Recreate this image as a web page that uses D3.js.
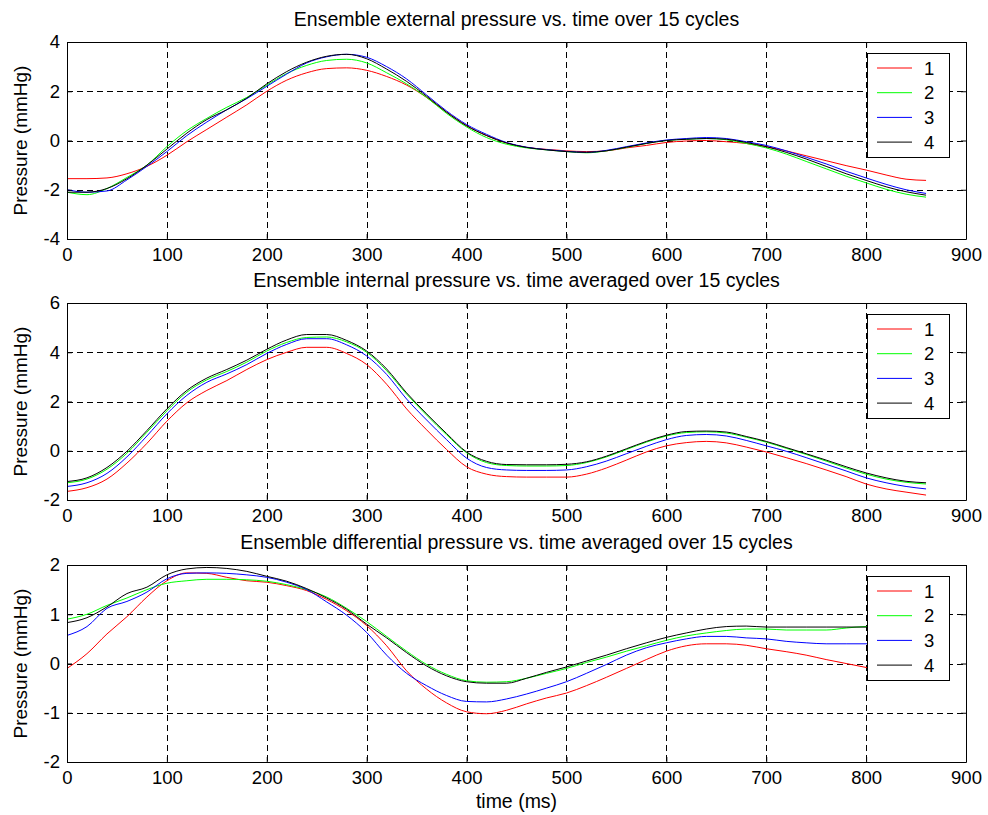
<!DOCTYPE html>
<html>
<head>
<meta charset="utf-8">
<script src="https://cdn.jsdelivr.net/npm/d3@7"></script>
<style>
    body { margin: 0; background: #fff; }
    svg { display: block; font-family: "Liberation Sans", Arial, sans-serif; }
    .grid line { stroke: #000; stroke-dasharray: 6,4; stroke-width: 1; }
    .axis path, .axis line { stroke: #000; }
    .axis text { font-size: 18.5px; fill: #000; }
</style>
</head>
<body>
<div class="chart"></div>
<script>
// time samples (ms)
var time = [0, 20, 40, 60, 80, 100, 120, 140, 160, 180, 200, 220, 240, 260, 280, 300, 320, 340, 360, 380,
    400, 420, 440, 460, 480, 500, 520, 540, 560, 580, 600, 620, 640, 660, 680, 700, 720, 740, 760, 780,
    800, 820, 840, 860];

var seriesNames = ["1", "2", "3", "4"];
var seriesColors = ["#ff0000", "#00ff00", "#0000ff", "#000000"];
var xTicks = [0, 100, 200, 300, 400, 500, 600, 700, 800, 900];

// external pressure
var ext1 = [-1.55, -1.55, -1.52, -1.35, -1.05, -0.6, -0.05, 0.45, 0.95, 1.45, 2.0, 2.45, 2.75, 2.92, 2.95, 2.85, 2.6, 2.25, 1.75, 1.15,
    0.6, 0.2, -0.1, -0.28, -0.36, -0.42, -0.45, -0.42, -0.3, -0.2, -0.08, -0.02, 0.0, -0.05, -0.12, -0.25, -0.42, -0.62, -0.82, -1.02,
    -1.2, -1.4, -1.57, -1.62];
var ext2 = [-2.1, -2.2, -1.95, -1.5, -1.0, -0.25, 0.4, 0.9, 1.35, 1.75, 2.25, 2.72, 3.05, 3.25, 3.3, 3.15, 2.75, 2.3, 1.75, 1.1,
    0.55, 0.12, -0.15, -0.3, -0.38, -0.45, -0.5, -0.42, -0.28, -0.12, 0.0, 0.05, 0.08, 0.03, -0.12, -0.3, -0.55, -0.85, -1.15, -1.45,
    -1.72, -1.98, -2.18, -2.3];
var ext3 = [-2.0, -2.1, -2.05, -1.6, -1.05, -0.45, 0.2, 0.75, 1.25, 1.7, 2.2, 2.7, 3.15, 3.4, 3.5, 3.38, 3.0, 2.5, 1.85, 1.2,
    0.65, 0.25, -0.08, -0.27, -0.37, -0.44, -0.48, -0.4, -0.25, -0.1, 0.02, 0.08, 0.12, 0.08, -0.05, -0.2, -0.42, -0.68, -0.95, -1.25,
    -1.52, -1.78, -2.0, -2.15];
var ext4 = [-2.1, -2.1, -1.95, -1.55, -1.0, -0.35, 0.3, 0.85, 1.25, 1.72, 2.3, 2.8, 3.18, 3.42, 3.5, 3.32, 2.9, 2.4, 1.8, 1.15,
    0.6, 0.2, -0.1, -0.28, -0.38, -0.45, -0.48, -0.42, -0.27, -0.12, 0.0, 0.05, 0.08, 0.05, -0.08, -0.25, -0.48, -0.75, -1.05, -1.35,
    -1.62, -1.88, -2.08, -2.22];

// internal pressure
var int1 = [-1.65, -1.5, -1.15, -0.5, 0.3, 1.2, 1.95, 2.45, 2.85, 3.3, 3.7, 4.0, 4.2, 4.2, 3.95, 3.5, 2.7, 1.7, 0.85, 0.05,
    -0.65, -0.95, -1.05, -1.07, -1.07, -1.07, -0.95, -0.7, -0.38, -0.05, 0.2, 0.33, 0.38, 0.32, 0.15, -0.05, -0.28, -0.52, -0.78, -1.05,
    -1.35, -1.55, -1.68, -1.8];
var int2 = [-1.3, -1.15, -0.75, -0.1, 0.75, 1.62, 2.38, 2.88, 3.22, 3.6, 4.05, 4.4, 4.6, 4.62, 4.42, 4.0, 3.25, 2.3, 1.45, 0.65,
    -0.08, -0.48, -0.6, -0.62, -0.62, -0.6, -0.48, -0.25, 0.05, 0.35, 0.6, 0.74, 0.77, 0.72, 0.55, 0.35, 0.1, -0.15, -0.42, -0.7,
    -0.95, -1.15, -1.28, -1.35];
var int3 = [-1.45, -1.3, -0.92, -0.25, 0.6, 1.5, 2.25, 2.78, 3.12, 3.5, 3.95, 4.32, 4.55, 4.55, 4.3, 3.85, 3.1, 2.1, 1.25, 0.45,
    -0.3, -0.68, -0.78, -0.8, -0.8, -0.78, -0.65, -0.42, -0.12, 0.18, 0.45, 0.62, 0.66, 0.6, 0.42, 0.2, -0.02, -0.28, -0.55, -0.82,
    -1.1, -1.3, -1.45, -1.55];
var int4 = [-1.25, -1.1, -0.68, -0.02, 0.82, 1.7, 2.45, 2.95, 3.3, 3.68, 4.12, 4.5, 4.72, 4.72, 4.48, 4.05, 3.32, 2.35, 1.5, 0.7,
    -0.05, -0.43, -0.56, -0.57, -0.57, -0.55, -0.45, -0.22, 0.08, 0.38, 0.63, 0.78, 0.8, 0.76, 0.58, 0.38, 0.13, -0.12, -0.38, -0.65,
    -0.9, -1.1, -1.24, -1.3];

// differential pressure
var diff1 = [-0.1, 0.2, 0.6, 0.95, 1.35, 1.68, 1.84, 1.83, 1.75, 1.68, 1.65, 1.58, 1.48, 1.3, 1.07, 0.77, 0.36, -0.15, -0.52, -0.8,
    -0.98, -1.02, -0.95, -0.82, -0.7, -0.6, -0.45, -0.28, -0.1, 0.08, 0.25, 0.36, 0.4, 0.4, 0.37, 0.3, 0.24, 0.17, 0.08, 0.0,
    -0.08, -0.15, -0.22, -0.3];
var diff2 = [0.9, 1.0, 1.18, 1.33, 1.5, 1.63, 1.68, 1.71, 1.71, 1.7, 1.67, 1.6, 1.5, 1.35, 1.12, 0.85, 0.55, 0.25, -0.02, -0.22,
    -0.35, -0.38, -0.37, -0.3, -0.2, -0.1, 0.02, 0.13, 0.25, 0.36, 0.47, 0.56, 0.62, 0.67, 0.7, 0.7, 0.68, 0.68, 0.68, 0.72,
    0.75, 0.75, 0.76, 0.76];
var diff3 = [0.57, 0.75, 1.12, 1.26, 1.45, 1.72, 1.83, 1.84, 1.83, 1.8, 1.75, 1.65, 1.5, 1.25, 0.98, 0.63, 0.17, -0.2, -0.45, -0.65,
    -0.77, -0.78, -0.72, -0.62, -0.5, -0.37, -0.2, -0.02, 0.17, 0.32, 0.42, 0.5, 0.55, 0.55, 0.52, 0.5, 0.45, 0.42, 0.4, 0.4,
    0.4, 0.42, 0.43, 0.45];
var diff4 = [0.83, 0.93, 1.15, 1.42, 1.55, 1.8, 1.92, 1.95, 1.93, 1.87, 1.77, 1.67, 1.52, 1.33, 1.1, 0.8, 0.52, 0.22, -0.05, -0.25,
    -0.37, -0.4, -0.4, -0.3, -0.18, -0.07, 0.05, 0.17, 0.3, 0.42, 0.53, 0.62, 0.7, 0.75, 0.76, 0.74, 0.74, 0.74, 0.74, 0.74,
    0.74, 0.75, 0.75, 0.75];

var panels = [
    {title: "Ensemble external pressure vs. time over 15 cycles", top: 42, domain: [-4, 4],
        yTicks: [-4, -2, 0, 2, 4], series: [ext1, ext2, ext3, ext4]},
    {title: "Ensemble internal pressure vs. time averaged over 15 cycles", top: 303, domain: [-2, 6],
        yTicks: [-2, 0, 2, 4, 6], series: [int1, int2, int3, int4]},
    {title: "Ensemble differential pressure vs. time averaged over 15 cycles", top: 565, domain: [-2, 2],
        yTicks: [-2, -1, 0, 1, 2], series: [diff1, diff2, diff3, diff4]}
];

var left = 67, plotWidth = 899, plotHeight = 197;

// matlab style labels: plain hyphen, no decimals
var tickFormat = function(d) { return String(d); };

var svg = d3.select(".chart").append("svg")
    .attr("width", 988)
    .attr("height", 815);

var x = d3.scaleLinear()
    .domain([0, 900])
    .range([0, plotWidth]);

panels.forEach(function(p, i) {
    var y = d3.scaleLinear()
        .domain(p.domain)
        .range([plotHeight, 0]);

    var g = svg.append("g")
        .attr("transform", "translate(" + left + "," + p.top + ")");

    // grid
    var grid = g.append("g").attr("class", "grid");
    grid.selectAll("line.v")
        .data(xTicks.slice(1, -1))
        .enter().append("line")
        .attr("class", "v")
        .attr("x1", function(d) { return Math.round(x(d)) + 0.5; })
        .attr("x2", function(d) { return Math.round(x(d)) + 0.5; })
        .attr("y1", 0)
        .attr("y2", plotHeight);
    grid.selectAll("line.h")
        .data(p.yTicks.slice(1, -1))
        .enter().append("line")
        .attr("class", "h")
        .attr("x1", 0)
        .attr("x2", plotWidth)
        .attr("y1", function(d) { return Math.round(y(d)) + 0.5; })
        .attr("y2", function(d) { return Math.round(y(d)) + 0.5; });

    // data lines
    var line = d3.line()
        .x(function(d, k) { return x(time[k]); })
        .y(function(d) { return y(d); })
        .curve(d3.curveMonotoneX);

    g.selectAll("path.series")
        .data(p.series)
        .enter().append("path")
        .attr("class", "series")
        .attr("fill", "none")
        .attr("stroke", function(d, k) { return seriesColors[k]; })
        .attr("stroke-width", 1)
        .attr("d", line);

    // axes (ticks inside, box on all sides)
    var xAxis = d3.axisBottom(x).tickValues(xTicks).tickFormat(tickFormat)
        .tickSizeInner(-5).tickSizeOuter(0).tickPadding(9);
    var yAxis = d3.axisLeft(y).tickValues(p.yTicks).tickFormat(tickFormat)
        .tickSizeInner(-5).tickSizeOuter(0).tickPadding(7);

    g.append("g")
        .attr("class", "x axis")
        .attr("transform", "translate(0," + plotHeight + ")")
        .call(xAxis);
    g.append("g")
        .attr("class", "y axis")
        .call(yAxis);
    g.append("g")
        .attr("class", "axis")
        .call(d3.axisTop(x).tickValues(xTicks).tickSizeInner(-5).tickSizeOuter(0).tickFormat(""));
    g.append("g")
        .attr("class", "axis")
        .attr("transform", "translate(" + plotWidth + ",0)")
        .call(d3.axisRight(y).tickValues(p.yTicks).tickSizeInner(-5).tickSizeOuter(0).tickFormat(""));

    // title
    svg.append("text")
        .attr("x", left + plotWidth / 2)
        .attr("y", p.top - 16)
        .attr("text-anchor", "middle")
        .style("font-size", "19.5px")
        .text(p.title);

    // y label
    svg.append("text")
        .attr("transform", "translate(27," + (p.top + plotHeight / 2) + ") rotate(-90)")
        .attr("text-anchor", "middle")
        .style("font-size", "19px")
        .text("Pressure (mmHg)");

    // legend
    var legend = g.append("g")
        .attr("transform", "translate(" + (plotWidth - 99) + "," + 11 + ")");
    legend.append("rect")
        .attr("x", 0.5)
        .attr("y", 0.5)
        .attr("width", 82)
        .attr("height", 104)
        .attr("fill", "#fff")
        .attr("stroke", "#000");
    var entry = legend.selectAll("g.entry")
        .data(seriesNames)
        .enter().append("g")
        .attr("class", "entry")
        .attr("transform", function(d, k) { return "translate(0," + (15 + k * 24.7) + ")"; });
    entry.append("line")
        .attr("x1", 10)
        .attr("x2", 45)
        .attr("y1", 0)
        .attr("y2", 0)
        .attr("stroke", function(d, k) { return seriesColors[k]; });
    entry.append("text")
        .attr("x", 57)
        .attr("dy", "0.36em")
        .style("font-size", "18.5px")
        .text(function(d) { return d; });
});

svg.append("text")
    .attr("x", left + plotWidth / 2)
    .attr("y", 808)
    .attr("text-anchor", "middle")
    .style("font-size", "19.5px")
    .text("time (ms)");
</script>
</body>
</html>
